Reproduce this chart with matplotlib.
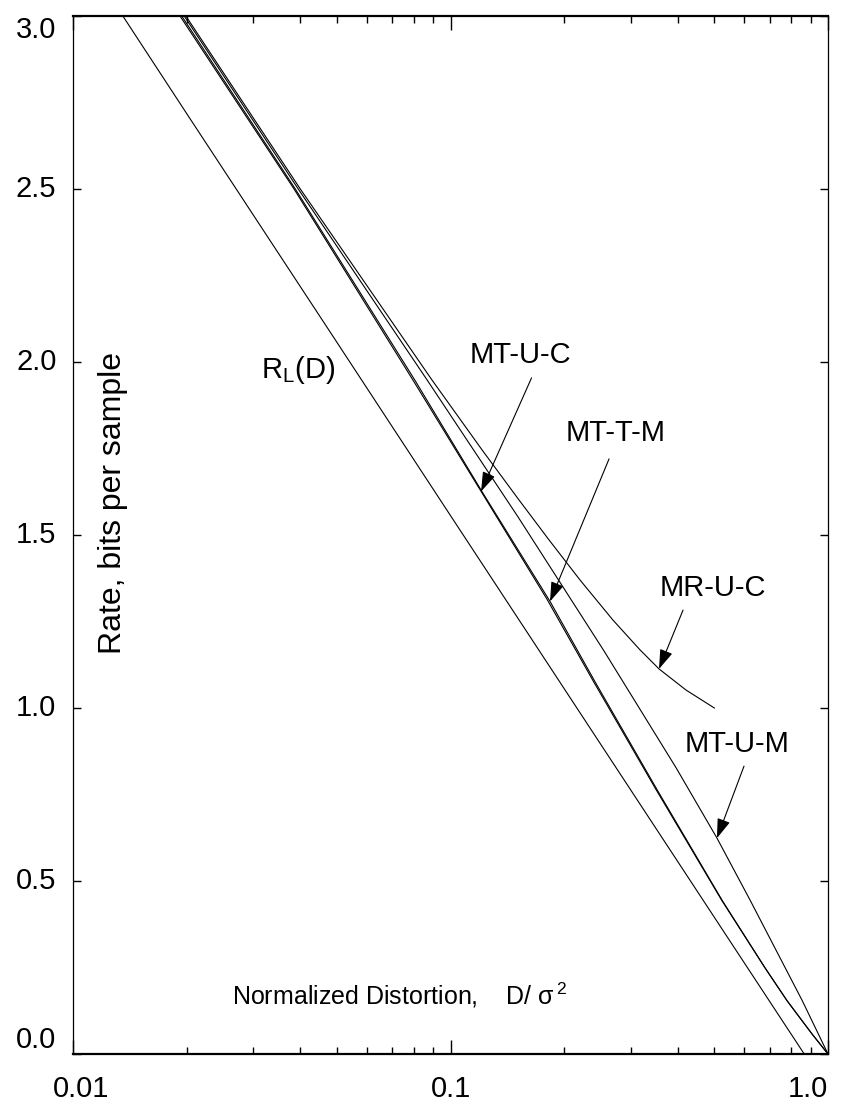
import matplotlib
matplotlib.use('Agg')
import matplotlib.pyplot as plt
import numpy as np

plt.rcParams['font.family'] = ['Liberation Sans', 'DejaVu Sans']
plt.rcParams['mathtext.fontset'] = 'custom'
plt.rcParams['mathtext.rm'] = 'Liberation Sans'
plt.rcParams['mathtext.it'] = 'Liberation Sans'

# distortion D/sigma^2 and rate (bits/sample) read for each curve
rl_D = [0.01355, 0.02, 0.05, 0.1, 0.2, 0.5, 0.865]
rl_R = [3.0, 2.718, 2.057, 1.556, 1.056, 0.395, 0.0]

mtuc_D = [0.0192, 0.0385, 0.0796, 0.1205, 0.18, 0.2385, 0.35, 0.5237, 0.68, 0.779, 0.907, 1.0]
mtuc_R = [3.0, 2.5, 1.947, 1.626, 1.315, 1.079, 0.765, 0.443, 0.25, 0.154, 0.058, 0.0]

mttm_D = [0.0194, 0.0388, 0.0805, 0.122, 0.1835, 0.2405, 0.352, 0.525, 0.68, 0.779, 0.907, 1.0]
mttm_R = [3.0, 2.5, 1.947, 1.62, 1.308, 1.079, 0.765, 0.443, 0.25, 0.154, 0.058, 0.0]

mtum_D = [0.0197, 0.0395, 0.0867, 0.151, 0.255, 0.396, 0.508, 0.6215, 0.853, 1.0]
mtum_R = [3.0, 2.5, 1.948, 1.552, 1.165, 0.827, 0.624, 0.445, 0.156, 0.0]

mruc_D = [0.0199, 0.040, 0.0893, 0.1212, 0.1519, 0.1823, 0.2203, 0.2694, 0.3177, 0.3567, 0.4205, 0.5]
mruc_R = [3.0, 2.5, 1.948, 1.746, 1.601, 1.486, 1.370, 1.254, 1.168, 1.113, 1.052, 1.0]

fig = plt.figure(figsize=(8.47, 11.08), dpi=100)
ax = fig.add_axes([0.0862, 0.0487, 0.8914, 0.9369])

lw = 0.8
ax.plot(rl_D, rl_R, color='black', lw=lw)
ax.plot(mtuc_D, mtuc_R, color='black', lw=lw)
ax.plot(mttm_D, mttm_R, color='black', lw=lw)
ax.plot(mtum_D, mtum_R, color='black', lw=lw)
ax.plot(mruc_D, mruc_R, color='black', lw=lw)

ax.set_xscale('log')
ax.set_xlim(0.01, 1.0)
ax.set_ylim(0.0, 3.0)

# ticks point inward on all four sides, labels drawn by hand below
ax.set_yticks(np.arange(0, 3.01, 0.5))
ax.set_xticks([0.01, 0.1, 1.0])
ax.xaxis.set_minor_locator(matplotlib.ticker.LogLocator(base=10, subs=np.arange(2, 10)))
ax.tick_params(axis='both', which='both', direction='in', top=True, right=True,
               labelbottom=False, labelleft=False)
ax.tick_params(axis='y', which='major', length=6, width=1.0)
ax.tick_params(axis='x', which='major', length=10, width=1.0)
ax.tick_params(axis='x', which='minor', length=5, width=1.0)
ax.spines['bottom'].set_linewidth(1.6)
ax.spines['top'].set_linewidth(1.6)
ax.spines['left'].set_linewidth(0.9)
ax.spines['right'].set_linewidth(0.9)

fs = 21
ytr = ax.get_yaxis_transform()
for v in [0.5, 1.0, 1.5, 2.0, 2.5]:
    ax.text(-0.022, v, f'{v:.1f}', transform=ytr, ha='right', va='center', fontsize=fs)
ax.text(-0.022, 3.0, '3.0', transform=ytr, ha='right', va='top', fontsize=fs)
ax.text(-0.022, 0.0, '0.0', transform=ytr, ha='right', va='bottom', fontsize=fs)

xtr = ax.get_xaxis_transform()
ax.text(0.0105, -0.02, '0.01', transform=xtr, ha='center', va='top', fontsize=fs)
ax.text(0.1, -0.02, '0.1', transform=xtr, ha='center', va='top', fontsize=fs)
ax.text(1.0, -0.02, '1.0', transform=xtr, ha='right', va='top', fontsize=fs)

ax.text(0.053, 0.531, 'Rate, bits per sample', transform=ax.transAxes,
        rotation=90, ha='center', va='center', fontsize=23)
ax.text(0.2106, 0.0568, r'Normalized Distortion,    D/ $\sigma^{\,2}$', transform=ax.transAxes,
        ha='left', va='center', fontsize=18)

ax.text(0.0395, 1.977, r'R$_\mathregular{L}$(D)', ha='center', va='center', fontsize=fs)


def on_curve(D, R, r):
    # distortion of a curve at rate r, read along its log-distortion
    return 10 ** np.interp(r, R[::-1], np.log10(D)[::-1])


arrows = [
    ('MT-U-C', (0.1528, 2.02), (0.1639, 1.954), mtuc_D, mtuc_R, 1.626),
    ('MT-T-M', (0.2745, 1.795), (0.263, 1.720), mttm_D, mttm_R, 1.308),
    ('MR-U-C', (0.4958, 1.347), (0.413, 1.283), mruc_D, mruc_R, 1.113),
    ('MT-U-M', (0.574, 0.896), (0.599, 0.832), mtum_D, mtum_R, 0.624),
]
for name, lab, start, D, R, r in arrows:
    ax.text(lab[0], lab[1], name, ha='center', va='center', fontsize=fs)
    tip = (on_curve(np.array(D), np.array(R), r), r)
    ax.annotate('', xy=tip, xytext=start,
                arrowprops=dict(arrowstyle='-|>,head_length=0.8,head_width=0.27',
                                color='black', lw=0.8, shrinkA=0, shrinkB=0,
                                mutation_scale=15))

fig.savefig('out.png', dpi=100)
